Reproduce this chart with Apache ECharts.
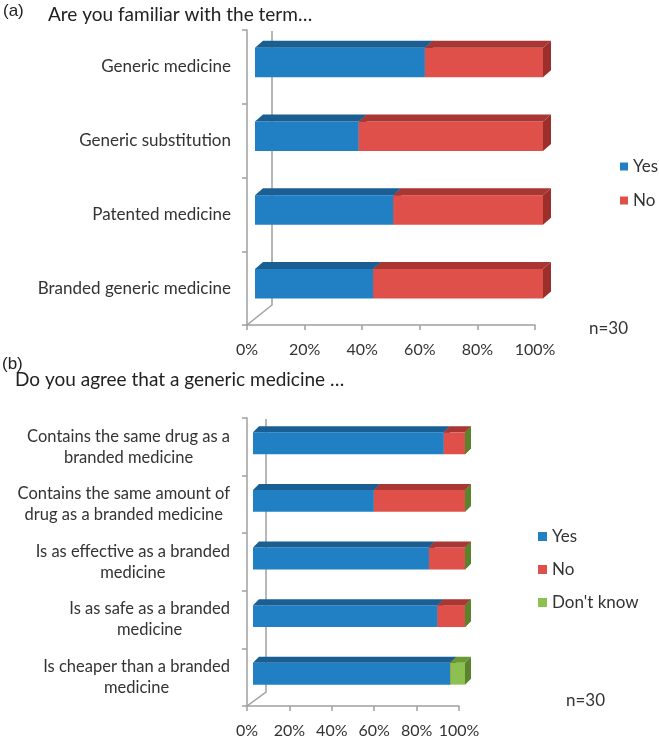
<!DOCTYPE html>
<html><head><meta charset="utf-8">
<script src="https://cdn.jsdelivr.net/npm/echarts@6/dist/echarts.min.js"></script>
<style>html,body{margin:0;padding:0;background:#fff}#c{width:659px;height:740px}</style>
</head><body><div id="c"></div>
<script>
// ---- data ----
var catsA = ['Generic medicine', 'Generic substitution', 'Patented medicine', 'Branded generic medicine'];
var yesA = [59, 36, 48, 41];
var noA = [41, 64, 52, 59];
var catsB = ['Contains the same drug as a branded medicine', 'Contains the same amount of drug as a branded medicine', 'Is as effective as a branded medicine', 'Is as safe as a branded medicine', 'Is cheaper than a branded medicine'];
var yesB = [90, 57, 83, 87, 93];
var noB = [10, 43, 17, 13, 0];
var dkB = [0, 0, 0, 0, 7];
var xTicks = [0, 20, 40, 60, 80, 100];

var FONT = 'Lato, "Open Sans", sans-serif';
var C = {
  yes: {front: '#2180c4', top: '#1a5f93', side: '#185a8c'},
  no: {front: '#e0504a', top: '#a93632', side: '#9c2f2a'},
  dk: {front: '#8cc152', top: '#6a9a35', side: '#5a832b'}
};

function stackRows(lists) {
  var out = lists.map(function () { return []; });
  for (var i = 0; i < lists[0].length; i++) {
    var acc = 0;
    for (var s = 0; s < lists.length; s++) {
      out[s].push([i, acc, acc + lists[s][i]]);
      acc += lists[s][i];
    }
  }
  return out;
}

function render3D(col, dx, dy, shiftX, shiftY, ratio) {
  return function (params, api) {
    var cat = api.value(0);
    var p0 = api.coord([api.value(1), cat]);
    var p1 = api.coord([api.value(2), cat]);
    var bh = api.size([0, 1])[1] * ratio;
    var x0 = p0[0] + shiftX, x1 = p1[0] + shiftX;
    var yT = p0[1] + shiftY - bh / 2, yB = yT + bh;
    var children = [];
    if (x1 - x0 > 0.01) {
      children.push({type: 'rect', shape: {x: x0, y: yT, width: x1 - x0, height: bh}, style: {fill: col.front}});
      children.push({type: 'polygon', shape: {points: [[x0, yT], [x0 + dx, yT - dy], [x1 + dx, yT - dy], [x1, yT]]}, style: {fill: col.top}});
    }
    children.push({type: 'polygon', shape: {points: [[x1, yT], [x1 + dx, yT - dy], [x1 + dx, yB - dy], [x1, yB]]}, style: {fill: col.side}});
    return {type: 'group', children: children};
  };
}

function wrapWords(s, maxChars) {
  var words = s.split(' '), lines = [], cur = '';
  words.forEach(function (w) {
    if (cur && (cur + ' ' + w).length > maxChars) { lines.push(cur); cur = w; }
    else cur = cur ? cur + ' ' + w : w;
  });
  if (cur) lines.push(cur);
  return lines;
}

var stA = stackRows([yesA, noA]);
var stB = stackRows([yesB, noB, dkB]);

var axisLineStyle = {color: '#a0a0a0', width: 1.5};
function xAxisDef(gi) {
  return {
    gridIndex: gi, type: 'value', min: xTicks[0], max: xTicks[xTicks.length - 1], interval: xTicks[1] - xTicks[0],
    axisLine: {show: true, lineStyle: axisLineStyle},
    axisTick: {show: true, length: 5, lineStyle: axisLineStyle},
    splitLine: {show: false},
    axisLabel: {formatter: '{value}%', color: '#333', fontFamily: FONT, fontSize: 16, margin: 17}
  };
}

var option = {
  animation: false,
  backgroundColor: '#fff',
  grid: [
    {left: 247, width: 288, top: 30, height: 295},
    {left: 247, width: 212, top: 418, height: 288}
  ],
  xAxis: [xAxisDef(0), xAxisDef(1)],
  yAxis: [
    {gridIndex: 0, type: 'category', data: catsA, inverse: true,
      axisLine: {show: true, lineStyle: axisLineStyle},
      axisTick: {show: true, length: 5, lineStyle: axisLineStyle},
      axisLabel: {color: '#333', fontFamily: FONT, fontSize: 17, margin: 16}},
    {gridIndex: 1, type: 'category', data: catsB, inverse: true,
      axisLine: {show: true, lineStyle: axisLineStyle},
      axisTick: {show: true, length: 5, lineStyle: axisLineStyle},
      axisLabel: {color: '#333', fontFamily: FONT, fontSize: 16, margin: 17, lineHeight: 21,
        formatter: function (v) {
          return wrapWords(v, 28).map(function (l) { return '{c|' + l + '}'; }).join('\n');
        },
        rich: {c: {align: 'center', color: '#333', fontFamily: FONT, fontSize: 16.5, lineHeight: 21}}}}
  ],
  legend: [
    {orient: 'vertical', left: 615, top: 152, itemWidth: 8, itemHeight: 8, itemGap: 15, icon: 'rect',
      data: ['Yes', 'No'], textStyle: {fontFamily: FONT, fontSize: 17, color: '#333', lineHeight: 19}},
    {orient: 'vertical', left: 533, top: 522, itemWidth: 9, itemHeight: 9, itemGap: 14, icon: 'rect',
      data: ['Yes ', 'No ', "Don't know"], textStyle: {fontFamily: FONT, fontSize: 17, color: '#333', lineHeight: 19}}
  ],
  series: [
    {type: 'custom', name: 'Yes', xAxisIndex: 0, yAxisIndex: 0, data: stA[0], encode: {x: [1, 2], y: 0},
      itemStyle: {color: C.yes.front}, renderItem: render3D(C.yes, 8, 7, 8, -4.5, 0.4)},
    {type: 'custom', name: 'No', xAxisIndex: 0, yAxisIndex: 0, data: stA[1], encode: {x: [1, 2], y: 0},
      itemStyle: {color: C.no.front}, renderItem: render3D(C.no, 8, 7, 8, -4.5, 0.4)},
    {type: 'custom', name: 'Yes ', xAxisIndex: 1, yAxisIndex: 1, data: stB[0], encode: {x: [1, 2], y: 0},
      itemStyle: {color: C.yes.front}, renderItem: render3D(C.yes, 6, 6, 6, -3.5, 0.38)},
    {type: 'custom', name: 'No ', xAxisIndex: 1, yAxisIndex: 1, data: stB[1], encode: {x: [1, 2], y: 0},
      itemStyle: {color: C.no.front}, renderItem: render3D(C.no, 6, 6, 6, -3.5, 0.38)},
    {type: 'custom', name: "Don't know", xAxisIndex: 1, yAxisIndex: 1, data: stB[2], encode: {x: [1, 2], y: 0},
      itemStyle: {color: C.dk.front}, renderItem: render3D(C.dk, 6, 6, 6, -3.5, 0.38)}
  ],
  graphic: [
    {type: 'polyline', shape: {points: [[272, 31], [272, 305], [247, 325]]}, style: {stroke: '#a0a0a0', lineWidth: 1.5, fill: null}, z: -1},
    {type: 'polyline', shape: {points: [[266, 419], [266, 692], [247, 706]]}, style: {stroke: '#a0a0a0', lineWidth: 1.5, fill: null}, z: -1},
    {type: 'text', left: 3, top: 3, style: {text: '(a)', font: '17px "Liberation Sans", Arial, sans-serif', fill: '#222'}},
    {type: 'text', left: 48, top: 5, style: {text: 'Are you familiar with the term…', font: '19px ' + FONT, fill: '#222'}},
    {type: 'text', left: 2, top: 356, style: {text: '(b)', font: '17px "Liberation Sans", Arial, sans-serif', fill: '#222'}},
    {type: 'text', left: 15, top: 370, style: {text: 'Do you agree that a generic medicine …', font: '19px ' + FONT, fill: '#222'}},
    {type: 'text', left: 589, top: 320, style: {text: 'n=30', font: '17px ' + FONT, fill: '#333'}},
    {type: 'text', left: 566, top: 692, style: {text: 'n=30', font: '17px ' + FONT, fill: '#333'}}
  ]
};
var chart = echarts.init(document.getElementById('c'), null, {renderer: 'canvas'});
chart.setOption(option);
</script></body></html>
